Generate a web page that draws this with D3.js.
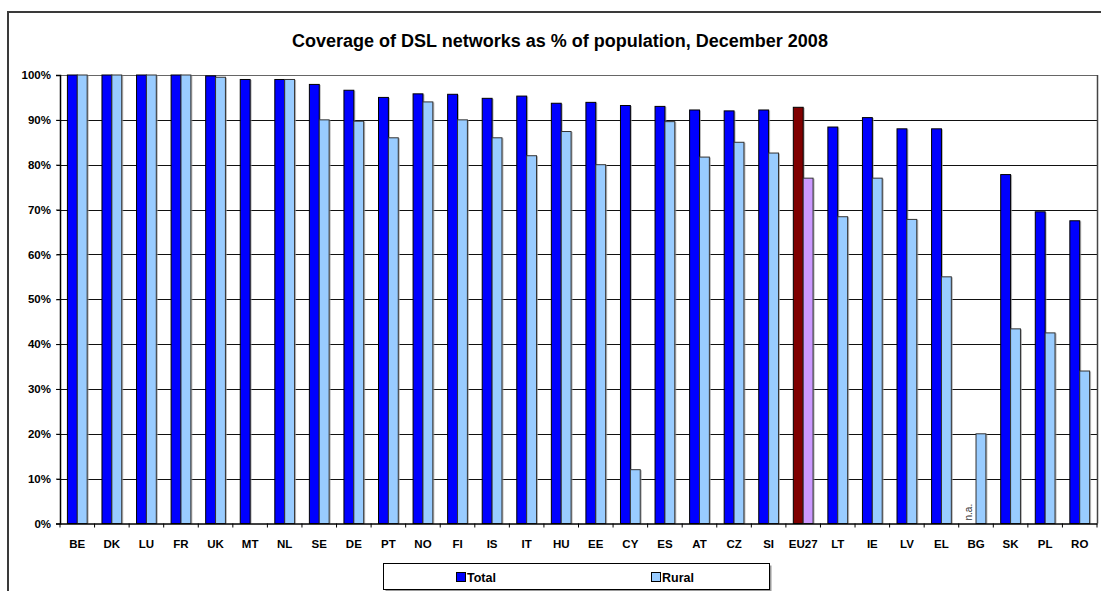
<!DOCTYPE html>
<html>
<head>
<meta charset="utf-8">
<script src="https://cdn.jsdelivr.net/npm/d3@7"></script>
<style>
  html, body { margin: 0; padding: 0; background: #fff; }
  svg { display: block; font-family: Arial, "Liberation Sans", sans-serif; }
</style>
</head>
<body>
<svg id="chart" width="1101" height="591"></svg>
<script>
const categories = ["BE","DK","LU","FR","UK","MT","NL","SE","DE","PT","NO","FI","IS","IT","HU","EE","CY","ES","AT","CZ","SI","EU27","LT","IE","LV","EL","BG","SK","PL","RO"];
const totalValues = [100,100,100,100,99.8,99,99,97.9,96.6,95,95.8,95.7,94.8,95.3,93.7,93.9,93.2,93,92.2,92,92.2,92.8,88.4,90.5,88,88,null,77.8,69.5,67.5];
const ruralValues = [100,100,100,100,99.5,null,99,90,89.7,86,94,90,86,82,87.4,80,12,89.6,81.7,85,82.6,77,68.4,77,67.8,55,20,43.4,42.5,34];
const seriesNames = ["Total","Rural"];
const yTicks = [0,10,20,30,40,50,60,70,80,90,100];
const titleText = "Coverage of DSL networks as % of population, December 2008";
const highlight = "EU27";
const naLabel = "n.a.";

const colors = { Total: "#0000FF", Rural: "#99CCFF" };
const highlightColors = { Total: "#800000", Rural: "#CC99FF" };

const svg = d3.select("#chart");
const L = 60, R = 1097, T = 75, B = 523.5;

// outer chart border
svg.append("path")
  .attr("d", `M8,${591} L8,12 L1101,12`)
  .attr("fill", "none").attr("stroke", "#3a3a3a").attr("stroke-width", 2);

// title
svg.append("text")
  .attr("x", 560).attr("y", 46.5)
  .attr("text-anchor", "middle")
  .attr("font-size", 18).attr("font-weight", "bold")
  .attr("fill", "#000")
  .text(titleText);

const x = d3.scaleBand().domain(categories).range([L, R]).paddingInner(0).paddingOuter(0);
const xs = d3.scaleBand().domain(seriesNames).range([0, x.bandwidth()]).paddingInner(0).paddingOuter(0.75);
const y = d3.scaleLinear().domain([0, 100]).range([B, T]);

// gridlines
svg.append("g").selectAll("line").data(yTicks.filter(d => d > 0)).join("line")
  .attr("x1", L - 3).attr("x2", R)
  .attr("y1", d => Math.round(y(d)) + 0.5).attr("y2", d => Math.round(y(d)) + 0.5)
  .attr("stroke", d => d === 100 ? "#666" : "#111").attr("stroke-width", 1);

// right border of plot area
svg.append("line").attr("x1", R + 0.5).attr("x2", R + 0.5).attr("y1", T).attr("y2", B)
  .attr("stroke", "#444").attr("stroke-width", 1.5);

// bars
const rows = [];
categories.forEach((c, i) => {
  rows.push({ cat: c, s: "Total", v: totalValues[i] });
  rows.push({ cat: c, s: "Rural", v: ruralValues[i] });
});
const barData = rows.filter(d => d.v !== null);
const gBars = svg.append("g");
// shadows
gBars.selectAll("rect.shadow").data(barData).join("rect")
  .attr("class", "shadow")
  .attr("x", d => x(d.cat) + xs(d.s) + 1.5)
  .attr("y", d => y(d.v) + 0.5)
  .attr("width", xs.bandwidth())
  .attr("height", d => B - y(d.v) - 0.5)
  .attr("fill", "#9a9a9a").attr("opacity", 0.7);
gBars.selectAll("rect.bar").data(barData).join("rect")
  .attr("class", "bar")
  .attr("x", d => x(d.cat) + xs(d.s))
  .attr("y", d => y(d.v))
  .attr("width", xs.bandwidth())
  .attr("height", d => B - y(d.v))
  .attr("fill", d => d.cat === highlight ? highlightColors[d.s] : colors[d.s])
  .attr("stroke", d => d.s === "Total" ? "#000" : "#333")
  .attr("stroke-width", 1);

// n.a. labels
rows.filter(d => d.v === null && d.s === "Total" && d.cat === "BG").forEach(d => {
  const cx = x(d.cat) + xs(d.s) + xs.bandwidth() / 2 + 1;
  svg.append("text")
    .attr("transform", `translate(${cx},${B - 3}) rotate(-90)`)
    .attr("font-size", 10).attr("fill", "#333")
    .text(naLabel);
});

// y axis
const yAxis = d3.axisLeft(y).tickValues(yTicks).tickFormat(d => d + "%").tickSize(4).tickPadding(5);
const gy = svg.append("g").attr("transform", `translate(${L},0)`).call(yAxis);
gy.select(".domain").attr("stroke", "#000").attr("stroke-width", 1.5);
gy.selectAll(".tick line").attr("stroke", "#000");
gy.selectAll(".tick text").attr("font-size", 11.5).attr("font-weight", "bold")
  .attr("font-family", "Arial, 'Liberation Sans', sans-serif").attr("fill", "#000");

// x axis
const xAxis = d3.axisBottom(x).tickSize(0).tickPadding(16);
const gx = svg.append("g").attr("transform", `translate(0,${B})`).call(xAxis);
gx.select(".domain").attr("stroke", "#000").attr("stroke-width", 1.5);
gx.selectAll(".tick text").attr("font-size", 11.5).attr("font-weight", "bold")
  .attr("font-family", "Arial, 'Liberation Sans', sans-serif").attr("fill", "#000");
// category boundary ticks
svg.append("g").selectAll("line").data(categories.concat([null])).join("line")
  .attr("x1", (d, i) => L + i * x.step()).attr("x2", (d, i) => L + i * x.step())
  .attr("y1", B).attr("y2", B + 4)
  .attr("stroke", "#000").attr("stroke-width", 1);

// legend
const lg = svg.append("g");
lg.append("rect").attr("x", 385.5).attr("y", 565.5).attr("width", 386).attr("height", 26)
  .attr("fill", "#9a9a9a");
lg.append("rect").attr("x", 383.5).attr("y", 563.5).attr("width", 386).attr("height", 26)
  .attr("fill", "#fff").attr("stroke", "#000").attr("stroke-width", 1);
const legendPos = { Total: 456, Rural: 651 };
seriesNames.forEach(s => {
  lg.append("rect").attr("x", legendPos[s] + 0.5).attr("y", 572.5).attr("width", 9).attr("height", 9)
    .attr("fill", colors[s]).attr("stroke", "#000").attr("stroke-width", 1);
  lg.append("text").attr("x", legendPos[s] + 11).attr("y", 582)
    .attr("font-size", 12.5).attr("font-weight", "bold").attr("fill", "#000").text(s);
});
</script>
</body>
</html>
